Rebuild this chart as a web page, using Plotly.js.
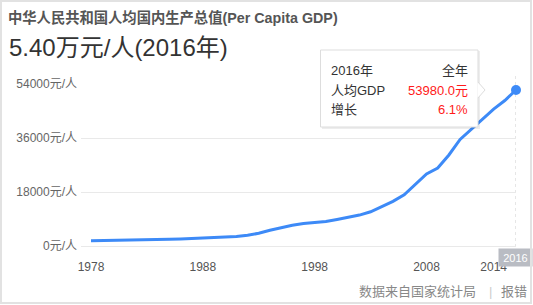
<!DOCTYPE html>
<html><head><meta charset="utf-8">
<script src="https://cdn.plot.ly/plotly-3.0.1.min.js"></script>
<style>
html,body{margin:0;padding:0;background:#fff;overflow:hidden}
#chart{position:absolute;left:0;top:0;width:533px;height:305px}
#frame{position:absolute;left:0;top:0;width:532px;height:304px;box-sizing:border-box;border:2px solid #e2e2e2;pointer-events:none}
</style></head><body>
<div id="chart"></div><div id="frame"></div>
<script>
// ---- data ----
const years = [1978,1979,1980,1981,1982,1983,1984,1985,1986,1987,1988,1989,1990,1991,1992,1993,1994,1995,1996,1997,1998,1999,2000,2001,2002,2003,2004,2005,2006,2007,2008,2009,2010,2011,2012,2013,2014,2015,2016];
const gdpPerCapita = [385,423,468,497,533,588,702,866,973,1123,1378,1536,1663,1912,2334,3027,4081,5091,5898,6481,6860,7229,7942,8717,9506,10666,12487,14368,16738,20505,24121,26222,30876,36403,40007,43852,47203,50251,53980];
const xTickVals = [1978,1988,1998,2008,2014];
const yTickVals = [0,18000,36000,54000];
const yTickText = yTickVals.map(v => v + '元/人');
const titleText = '中华人民共和国人均国内生产总值(Per Capita GDP)';
const subtitleText = '5.40万元/人(2016年)';
const tipRows = [['2016年','全年'],['人均GDP','53980.0元'],['增长','6.1%']];
const sourceText = '数据来自国家统计局';
const reportText = '报错';
const lastYearLabel = '2016';

// ---- layout helpers (pixel -> paper) ----
const L = 81, R = 516, T = 84, B = 246;
const fx = p => (p - L) / (R - L);
const fy = p => (B - p) / (B - T);
const FONT = 'Liberation Sans, Arial, Noto Sans CJK SC, sans-serif';
const BLUE = '#3d8af7';

const n = years.length;
const traces = [
  // anchor trace so the labelled y axis is drawn
  {x: [years[0]], y: [null], type: 'scatter', mode: 'lines', yaxis: 'y', hoverinfo: 'skip'},
  {x: years, y: gdpPerCapita, type: 'scatter', mode: 'lines', yaxis: 'y2',
   line: {color: BLUE, width: 3}, hoverinfo: 'skip', cliponaxis: false},
  {x: [years[n-1]], y: [gdpPerCapita[n-1]], type: 'scatter', mode: 'markers', yaxis: 'y2',
   marker: {color: BLUE, size: 10}, hoverinfo: 'skip', cliponaxis: false}
];

const shapes = [
  {type: 'line', xref: 'x', yref: 'paper', x0: 2016, x1: 2016, y0: fy(247), y1: fy(75),
   line: {color: '#cccccc', width: 1, dash: 'dot'}, layer: 'below'},
  {type: 'rect', xref: 'paper', yref: 'paper', x0: fx(322), x1: fx(480), y0: fy(129), y1: fy(51),
   fillcolor: 'rgba(0,0,0,0.07)', line: {width: 0}, layer: 'above'},
  {type: 'rect', xref: 'paper', yref: 'paper', x0: fx(320.5), x1: fx(478), y0: fy(127), y1: fy(50),
   fillcolor: '#ffffff', line: {color: '#dddddd', width: 1}, layer: 'above'},
  {type: 'path', xref: 'paper', yref: 'paper',
   path: `M ${fx(477.5)} ${fy(82)} L ${fx(485)} ${fy(90)} L ${fx(477.5)} ${fy(98)} Z`,
   fillcolor: '#ffffff', line: {width: 0}, layer: 'above'},
  {type: 'line', xref: 'paper', yref: 'paper', x0: fx(478), y0: fy(82), x1: fx(485), y1: fy(90),
   line: {color: '#dddddd', width: 1}, layer: 'above'},
  {type: 'line', xref: 'paper', yref: 'paper', x0: fx(485), y0: fy(90), x1: fx(478), y1: fy(98),
   line: {color: '#dddddd', width: 1}, layer: 'above'}
];

const annotations = [];
const rowY = [70, 90, 109.5];
tipRows.forEach((r, i) => {
  annotations.push({xref: 'paper', yref: 'paper', x: fx(329), y: fy(rowY[i]), xanchor: 'left', yanchor: 'middle',
    text: r[0], showarrow: false, font: {family: FONT, size: 13, color: '#333333'}});
  annotations.push({xref: 'paper', yref: 'paper', x: fx(469.5), y: fy(rowY[i]), xanchor: 'right', yanchor: 'middle',
    text: r[1], showarrow: false, font: {family: FONT, size: 13, color: i === 0 ? '#333333' : '#ff1a1a'}});
});
annotations.push({xref: 'paper', yref: 'paper', x: fx(7), y: fy(47.5), xanchor: 'left', yanchor: 'middle',
  text: subtitleText, showarrow: false, font: {family: FONT, size: 24, color: '#333333'}});
annotations.push({xref: 'x', yref: 'paper', x: 2016, xshift: -1, y: fy(257.5), xanchor: 'center', yanchor: 'middle',
  text: lastYearLabel, showarrow: false, bgcolor: '#b9bcc3', width: 33, height: 17, borderpad: 0,
  font: {family: FONT, size: 11, color: '#ffffff'}});
annotations.push({xref: 'paper', yref: 'paper', x: fx(478), y: fy(291.5), xanchor: 'right', yanchor: 'middle',
  text: sourceText, showarrow: false, font: {family: FONT, size: 13, color: '#888888'}});
annotations.push({xref: 'paper', yref: 'paper', x: fx(490), y: fy(291.5), xanchor: 'center', yanchor: 'middle',
  text: '|', showarrow: false, font: {family: FONT, size: 13, color: '#cccccc'}});
annotations.push({xref: 'paper', yref: 'paper', x: fx(499), y: fy(291.5), xanchor: 'left', yanchor: 'middle',
  text: reportText, showarrow: false, font: {family: FONT, size: 13, color: '#888888'}});

const layout = {
  width: 533, height: 305,
  margin: {l: L, r: 533 - R, t: T, b: 305 - B, pad: 0},
  paper_bgcolor: '#ffffff', plot_bgcolor: '#ffffff',
  showlegend: false,
  title: {text: titleText, x: 8/533, xref: 'container', xanchor: 'left', y: 1 - 17.5/305, yref: 'container', yanchor: 'middle',
    font: {family: FONT, size: 14.3, color: '#555555', weight: 700}},
  xaxis: {range: [1978 - 10/((R - L - 10)/38) , 2016], tickvals: xTickVals, showgrid: false, zeroline: false, showline: false,
    ticks: '', ticklabelstandoff: 12, tickfont: {family: FONT, size: 12, color: '#555555'}, fixedrange: true},
  yaxis: {range: [0, 54000], tickmode: 'array', tickvals: yTickVals, ticktext: yTickText, showgrid: true, gridcolor: '#e9e9e9', gridwidth: 1,
    zeroline: true, zerolinecolor: '#e9e9e9', zerolinewidth: 1, showline: false, ticks: '', ticklabelstandoff: 3,
    tickfont: {family: FONT, size: 12, color: '#666666'}, fixedrange: true},
  yaxis2: {overlaying: 'y', range: [-1494, 56117], visible: false, fixedrange: true},
  shapes: shapes,
  annotations: annotations
};

Plotly.newPlot('chart', traces, layout, {staticPlot: true, displayModeBar: false});
</script></body></html>
